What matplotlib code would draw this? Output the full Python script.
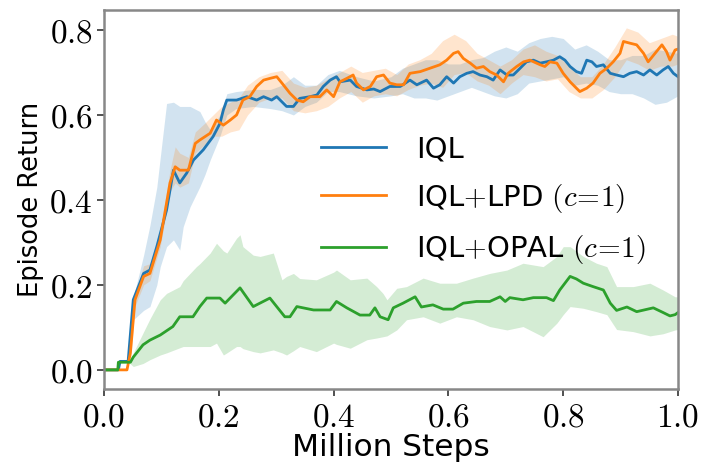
import numpy as np
import matplotlib
matplotlib.use("Agg")
import matplotlib.pyplot as plt
from matplotlib.ticker import FuncFormatter

plt.rcParams['mathtext.fontset'] = 'cm'
plt.rcParams['font.family'] = ['DejaVu Sans']

# ---------------- data ----------------
iql_x = [0, 0.025, 0.028, 0.042, 0.051, 0.069, 0.080, 0.092, 0.109, 0.121, 0.132, 0.144, 0.156,
         0.173, 0.19, 0.202, 0.208, 0.214, 0.231, 0.249, 0.266, 0.278, 0.292, 0.301, 0.318, 0.33,
         0.341, 0.359, 0.371, 0.382, 0.394, 0.405, 0.411, 0.429, 0.44, 0.458, 0.47, 0.481, 0.498,
         0.516, 0.533, 0.545, 0.562, 0.574, 0.585, 0.597, 0.609, 0.62, 0.632, 0.643, 0.655, 0.667,
         0.678, 0.69, 0.702, 0.713, 0.725, 0.736, 0.748, 0.76, 0.771, 0.783, 0.794, 0.803, 0.812,
         0.823, 0.832, 0.841, 0.85, 0.858, 0.87, 0.882, 0.893, 0.905, 0.916, 0.928, 0.94, 0.951,
         0.963, 0.974, 0.983, 0.992, 1.0]
iql_y = [0, 0, 0.02, 0.02, 0.165, 0.227, 0.235, 0.29, 0.376, 0.47, 0.44, 0.463, 0.494,
         0.518, 0.549, 0.58, 0.612, 0.635, 0.635, 0.643, 0.635, 0.643, 0.635, 0.643, 0.62, 0.62,
         0.639, 0.643, 0.647, 0.667, 0.682, 0.69, 0.678, 0.682, 0.667, 0.659, 0.661, 0.655, 0.667,
         0.667, 0.682, 0.671, 0.682, 0.663, 0.671, 0.69, 0.675, 0.69, 0.698, 0.702, 0.694, 0.69,
         0.682, 0.706, 0.694, 0.694, 0.71, 0.725, 0.729, 0.722, 0.725, 0.729, 0.737, 0.729, 0.714,
         0.702, 0.698, 0.729, 0.725, 0.714, 0.718, 0.698, 0.694, 0.69, 0.698, 0.702, 0.694, 0.706,
         0.694, 0.706, 0.714, 0.698, 0.69]

iql_band_x = [0.045, 0.051, 0.069, 0.08, 0.092, 0.098, 0.109, 0.121, 0.132, 0.138, 0.15, 0.167, 0.176,
              0.185, 0.202, 0.214, 0.23, 0.26, 0.29, 0.31, 0.33, 0.35, 0.37, 0.39, 0.41, 0.44, 0.47,
              0.5, 0.52, 0.54, 0.56, 0.58, 0.6, 0.62, 0.64, 0.66, 0.68, 0.70, 0.72, 0.74, 0.76, 0.78,
              0.80, 0.82, 0.84, 0.86, 0.88, 0.90, 0.92, 0.94, 0.96, 0.98, 1.0]
iql_lo = [0.02, 0.118, 0.14, 0.149, 0.2, 0.243, 0.29, 0.306, 0.282, 0.337, 0.384, 0.431, 0.46,
          0.494, 0.55, 0.6, 0.615, 0.62, 0.615, 0.61, 0.60, 0.62, 0.63, 0.655, 0.655, 0.645, 0.64,
          0.645, 0.65, 0.64, 0.64, 0.635, 0.645, 0.655, 0.665, 0.655, 0.645, 0.64, 0.65, 0.675, 0.68,
          0.685, 0.69, 0.67, 0.675, 0.67, 0.655, 0.65, 0.65, 0.64, 0.625, 0.63, 0.645]
iql_hi = [0.03, 0.17, 0.27, 0.34, 0.43, 0.5, 0.627, 0.63, 0.62, 0.62, 0.62, 0.608, 0.584,
          0.565, 0.6, 0.65, 0.655, 0.66, 0.66, 0.67, 0.69, 0.67, 0.67, 0.695, 0.705, 0.69, 0.68,
          0.69, 0.71, 0.72, 0.73, 0.73, 0.72, 0.72, 0.73, 0.735, 0.75, 0.76, 0.75, 0.77, 0.78,
          0.785, 0.78, 0.755, 0.765, 0.75, 0.73, 0.73, 0.74, 0.74, 0.755, 0.75, 0.745]

lpd_x = [0, 0.04, 0.046, 0.054, 0.069, 0.08, 0.098, 0.115, 0.124, 0.132, 0.147, 0.159, 0.167,
         0.185, 0.196, 0.208, 0.22, 0.231, 0.242, 0.254, 0.266, 0.278, 0.289, 0.301, 0.31, 0.324,
         0.336, 0.347, 0.359, 0.376, 0.388, 0.4, 0.411, 0.423, 0.434, 0.44, 0.452, 0.464, 0.475,
         0.487, 0.498, 0.51, 0.522, 0.533, 0.551, 0.568, 0.585, 0.597, 0.609, 0.617, 0.626, 0.638,
         0.649, 0.661, 0.672, 0.684, 0.696, 0.704, 0.719, 0.731, 0.742, 0.76, 0.768, 0.777, 0.789,
         0.8, 0.812, 0.823, 0.829, 0.841, 0.852, 0.864, 0.876, 0.887, 0.899, 0.905, 0.916, 0.928,
         0.94, 0.948, 0.96, 0.972, 0.98, 0.986, 0.995, 1.0]
lpd_y = [0, 0, 0.04, 0.165, 0.22, 0.227, 0.306, 0.44, 0.478, 0.47, 0.47, 0.533, 0.541,
         0.557, 0.588, 0.576, 0.588, 0.6, 0.635, 0.643, 0.667, 0.682, 0.686, 0.69, 0.675, 0.651,
         0.635, 0.631, 0.643, 0.643, 0.659, 0.643, 0.678, 0.686, 0.694, 0.675, 0.659, 0.667, 0.69,
         0.694, 0.675, 0.671, 0.671, 0.698, 0.702, 0.71, 0.718, 0.729, 0.745, 0.749, 0.733, 0.722,
         0.71, 0.714, 0.702, 0.694, 0.678, 0.698, 0.714, 0.725, 0.729, 0.718, 0.714, 0.725, 0.722,
         0.698, 0.678, 0.663, 0.655, 0.663, 0.675, 0.698, 0.71, 0.725, 0.745, 0.773, 0.769, 0.765,
         0.745, 0.725, 0.745, 0.765, 0.749, 0.729, 0.753, 0.755]

lpd_band_x = [0.046, 0.054, 0.069, 0.08, 0.098, 0.115, 0.124, 0.132, 0.147, 0.159, 0.175, 0.19, 0.205,
              0.22, 0.235, 0.25, 0.27, 0.29, 0.31, 0.33, 0.35, 0.37, 0.39, 0.41, 0.43, 0.45, 0.47,
              0.49, 0.51, 0.53, 0.55, 0.57, 0.59, 0.61, 0.63, 0.65, 0.67, 0.69, 0.71, 0.73, 0.75,
              0.77, 0.79, 0.81, 0.83, 0.85, 0.87, 0.89, 0.91, 0.93, 0.95, 0.97, 0.99, 1.0]
lpd_lo = [0.02, 0.15, 0.2, 0.21, 0.29, 0.42, 0.44, 0.43, 0.44, 0.51, 0.53, 0.55, 0.55,
          0.56, 0.565, 0.6, 0.63, 0.64, 0.64, 0.61, 0.605, 0.61, 0.62, 0.64, 0.655, 0.63, 0.645,
          0.65, 0.645, 0.66, 0.67, 0.675, 0.665, 0.695, 0.7, 0.68, 0.67, 0.65, 0.675, 0.695, 0.69,
          0.68, 0.685, 0.655, 0.64, 0.64, 0.66, 0.69, 0.73, 0.72, 0.705, 0.715, 0.715, 0.72]
lpd_hi = [0.03, 0.18, 0.245, 0.25, 0.33, 0.47, 0.525, 0.51, 0.5, 0.56, 0.58, 0.6, 0.62,
          0.63, 0.64, 0.67, 0.69, 0.7, 0.705, 0.675, 0.665, 0.67, 0.685, 0.7, 0.715, 0.7, 0.705,
          0.71, 0.695, 0.72, 0.73, 0.745, 0.775, 0.79, 0.775, 0.745, 0.73, 0.715, 0.73, 0.755, 0.765,
          0.75, 0.74, 0.715, 0.69, 0.69, 0.72, 0.76, 0.805, 0.795, 0.77, 0.78, 0.79, 0.785]

opal_x = [0, 0.024, 0.025, 0.046, 0.051, 0.068, 0.08, 0.098, 0.12, 0.132, 0.155, 0.167, 0.179,
          0.202, 0.211, 0.237, 0.26, 0.289, 0.315, 0.324, 0.336, 0.365, 0.394, 0.405, 0.423,
          0.446, 0.463, 0.472, 0.481, 0.495, 0.504, 0.521, 0.542, 0.553, 0.573, 0.591, 0.608,
          0.626, 0.649, 0.672, 0.690, 0.699, 0.707, 0.730, 0.748, 0.771, 0.783, 0.794, 0.812,
          0.823, 0.835, 0.852, 0.870, 0.882, 0.893, 0.911, 0.928, 0.957, 0.974, 0.986, 0.995, 1.0]
opal_y = [0, 0, 0.018, 0.018, 0.03, 0.059, 0.07, 0.082, 0.102, 0.125, 0.125, 0.149, 0.169,
          0.169, 0.157, 0.193, 0.149, 0.169, 0.125, 0.125, 0.149, 0.141, 0.141, 0.161, 0.146,
          0.129, 0.129, 0.146, 0.125, 0.118, 0.146, 0.157, 0.172, 0.148, 0.153, 0.143, 0.143,
          0.157, 0.161, 0.161, 0.172, 0.161, 0.17, 0.165, 0.17, 0.17, 0.163, 0.188, 0.22,
          0.214, 0.204, 0.196, 0.188, 0.157, 0.14, 0.148, 0.137, 0.146, 0.135, 0.127, 0.13, 0.135]

opal_band_x = [0.045, 0.051, 0.068, 0.08, 0.098, 0.109, 0.132, 0.138, 0.161, 0.167, 0.185, 0.196,
               0.208, 0.214, 0.231, 0.237, 0.242, 0.26, 0.272, 0.295, 0.31, 0.318, 0.33, 0.341,
               0.37, 0.4, 0.405, 0.429, 0.458, 0.475, 0.486, 0.493, 0.51, 0.527, 0.556, 0.585,
               0.614, 0.643, 0.672, 0.702, 0.73, 0.765, 0.789, 0.8, 0.812, 0.835, 0.858, 0.876,
               0.893, 0.922, 0.951, 0.974, 0.995, 1.0]
opal_lo = [0.015, 0.008, 0.015, 0.024, 0.035, 0.04, 0.052, 0.055, 0.055, 0.055, 0.055, 0.063,
           0.035, 0.04, 0.055, 0.055, 0.05, 0.043, 0.04, 0.047, 0.04, 0.035, 0.045, 0.055,
           0.043, 0.063, 0.06, 0.051, 0.071, 0.075, 0.078, 0.08, 0.094, 0.118, 0.125, 0.11,
           0.125, 0.118, 0.102, 0.094, 0.102, 0.078, 0.11, 0.13, 0.149, 0.145, 0.137, 0.13,
           0.095, 0.09, 0.08, 0.085, 0.094, 0.095]
opal_hi = [0.025, 0.04, 0.087, 0.12, 0.165, 0.18, 0.196, 0.21, 0.243, 0.25, 0.275, 0.298,
           0.28, 0.275, 0.31, 0.318, 0.29, 0.27, 0.267, 0.275, 0.212, 0.22, 0.227, 0.215,
           0.212, 0.23, 0.235, 0.212, 0.216, 0.196, 0.18, 0.165, 0.192, 0.196, 0.216, 0.204,
           0.204, 0.216, 0.227, 0.235, 0.251, 0.243, 0.267, 0.29, 0.29, 0.267, 0.251, 0.243,
           0.196, 0.196, 0.204, 0.188, 0.172, 0.172]

labels = ['IQL', r'IQL$+$LPD $(c\!=\!1)$', r'IQL$+$OPAL $(c\!=\!1)$']
colors = ['#1f77b4', '#ff7f0e', '#2ca02c']
x_ticks = [0.0, 0.2, 0.4, 0.6, 0.8, 1.0]
y_ticks = [0.0, 0.2, 0.4, 0.6, 0.8]

# ---------------- plot ----------------
fig = plt.figure(figsize=(7.01, 4.69), dpi=100)
ax = fig.add_axes([104 / 701, 80 / 469, 574 / 701, 379 / 469])

series = [(iql_x, iql_y, iql_band_x, iql_lo, iql_hi),
          (lpd_x, lpd_y, lpd_band_x, lpd_lo, lpd_hi),
          (opal_x, opal_y, opal_band_x, opal_lo, opal_hi)]
for (sx, sy, bx, lo, hi), lab, c in zip(series, labels, colors):
    ax.fill_between(bx, lo, hi, color=c, alpha=0.2, linewidth=0)
    ax.plot(sx, sy, color=c, lw=2, label=lab)

ax.set_xlim(0, 1.0)
ax.set_ylim(-0.045, 0.847)
ax.set_xticks(x_ticks)
ax.set_yticks(y_ticks)
fmt = FuncFormatter(lambda v, p: r'$%.1f$' % v)
ax.xaxis.set_major_formatter(fmt)
ax.yaxis.set_major_formatter(fmt)
ax.tick_params(axis='both', labelsize=24, length=5, width=1.2, color='#333333', pad=3)
for s in ax.spines.values():
    s.set_color('#888888')
    s.set_linewidth(1.8)

ax.set_xlabel('Million Steps', fontsize=22.5, labelpad=0)
ax.set_ylabel('Episode Return', fontsize=18.5, labelpad=4)

leg = ax.legend(loc='upper left', bbox_to_anchor=(0.332, 0.739), frameon=False,
                fontsize=21, handlelength=2.23, handletextpad=1.03, labelspacing=0.63,
                borderpad=0.4)

fig.savefig('out.png', dpi=100)
